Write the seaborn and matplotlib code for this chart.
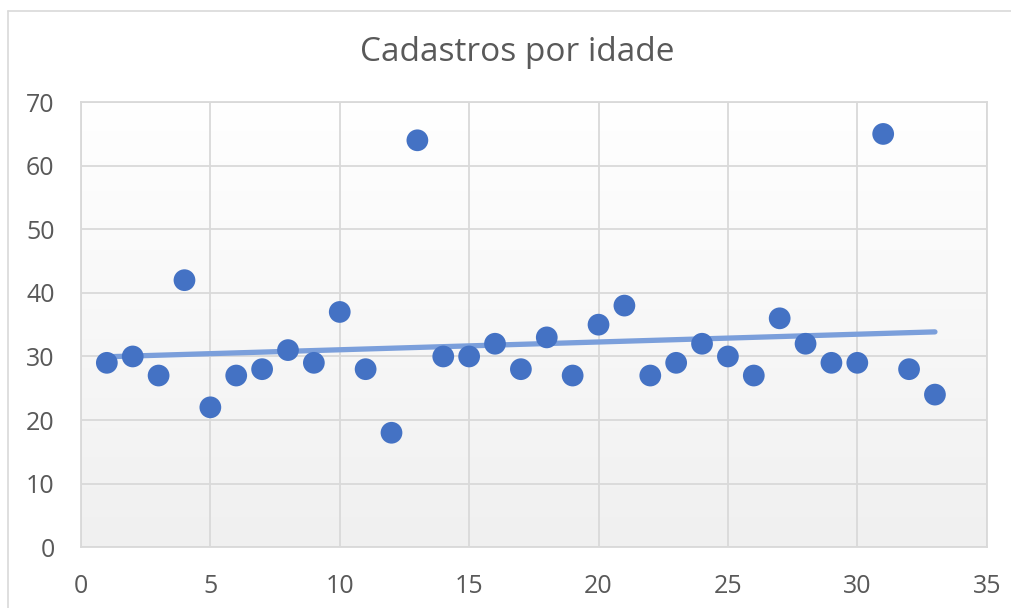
import numpy as np
import pandas as pd
import matplotlib
matplotlib.use("Agg")
import matplotlib.pyplot as plt
import seaborn as sns
from matplotlib.lines import Line2D

# -------------------------
# DATA
# -------------------------
idade = list(range(1, 34))
cadastros = [29, 30, 27, 42, 22, 27, 28, 31, 29, 37, 28, 18, 64, 30, 30, 32, 28,
             33, 27, 35, 38, 27, 29, 32, 30, 27, 36, 32, 29, 29, 65, 28, 24]
x_ticks = [0, 5, 10, 15, 20, 25, 30, 35]
y_ticks = [0, 10, 20, 30, 40, 50, 60, 70]
titulo = "Cadastros por idade"

df = pd.DataFrame({"idade": idade, "cadastros": cadastros})

# -------------------------
# PLOT
# -------------------------
sns.set_style("white")
plt.rcParams["font.family"] = ["Open Sans", "DejaVu Sans"]

fig = plt.figure(figsize=(10.12, 6.08), dpi=100)
ax = fig.add_axes([0.080, 0.100, 0.895, 0.732])

# fundo em degradê (branco -> cinza claro)
grad = np.linspace(0, 1, 256).reshape(-1, 1)
ax.imshow(grad, extent=[0, 35, 0, 70], aspect="auto", origin="upper",
          cmap=matplotlib.colors.LinearSegmentedColormap.from_list(
              "bg", ["#FFFFFF", "#F0F0F0"]), zorder=0)

sns.regplot(data=df, x="idade", y="cadastros", ax=ax, scatter=False, ci=None,
            truncate=True,
            line_kws={"color": "#7B9FDB", "lw": 3.8, "solid_capstyle": "round", "zorder": 3})
sns.scatterplot(data=df, x="idade", y="cadastros", ax=ax, color="#4472C4",
                s=245, edgecolor="none", zorder=4)

ax.set_xlim(0, 35)
ax.set_ylim(0, 70)
ax.set_xticks(x_ticks)
ax.set_yticks(y_ticks)
ax.grid(True, color="#D9D9D9", lw=1.3)
ax.set_axisbelow(True)
for sp in ax.spines.values():
    sp.set_color("#D9D9D9")
    sp.set_linewidth(1.3)
ax.tick_params(axis="both", length=0, labelsize=18, labelcolor="#595959")
ax.tick_params(axis="y", pad=19)
ax.tick_params(axis="x", pad=19)
ax.set_xlabel("")
ax.set_ylabel("")

fig.text(0.511, 0.913, titulo, ha="center", va="center", fontsize=24, color="#595959")

# borda do gráfico (parcialmente cortada)
fig.add_artist(Line2D([8 / 1012, 8 / 1012], [0, 1 - 11 / 608], transform=fig.transFigure,
                      color="#D9D9D9", lw=1.2))
fig.add_artist(Line2D([8 / 1012, 1], [1 - 11 / 608, 1 - 11 / 608], transform=fig.transFigure,
                      color="#D9D9D9", lw=1.2))

plt.savefig("out.png", dpi=100)
plt.close()
